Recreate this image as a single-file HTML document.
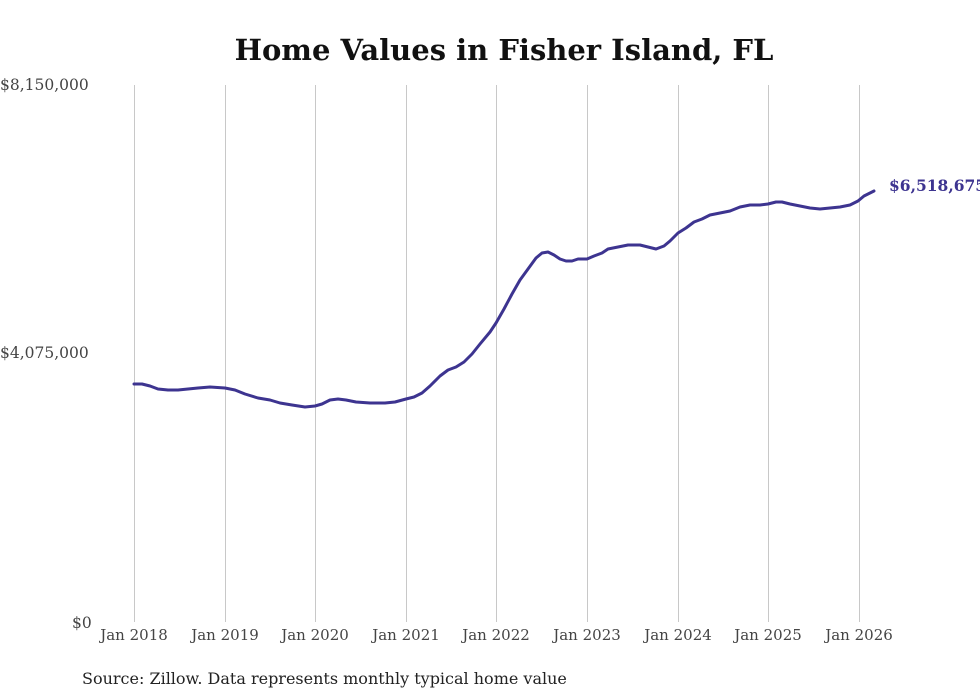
<!DOCTYPE html>
<html><head><meta charset="utf-8"><style>
html,body{margin:0;padding:0;background:#fff;width:980px;height:699px;overflow:hidden}
</style></head><body>
<svg width="980" height="699" xmlns="http://www.w3.org/2000/svg" font-family="'DejaVu Serif', 'Liberation Serif', serif">
<text x="504" y="60" text-anchor="middle" font-size="29" font-weight="bold" fill="#111">Home Values in Fisher Island, FL</text>
<g stroke="#c8c8c8" stroke-width="1">
<line x1="134.5" y1="85" x2="134.5" y2="622"/>
<line x1="225.5" y1="85" x2="225.5" y2="622"/>
<line x1="315.5" y1="85" x2="315.5" y2="622"/>
<line x1="406.5" y1="85" x2="406.5" y2="622"/>
<line x1="496.5" y1="85" x2="496.5" y2="622"/>
<line x1="587.5" y1="85" x2="587.5" y2="622"/>
<line x1="678.5" y1="85" x2="678.5" y2="622"/>
<line x1="768.5" y1="85" x2="768.5" y2="622"/>
<line x1="859.5" y1="85" x2="859.5" y2="622"/>
</g>
<g font-size="15.5" fill="#444">
<text x="0" y="90">$8,150,000</text>
<text x="0" y="358">$4,075,000</text>
<text x="72" y="628">$0</text>
</g>
<g font-size="15" fill="#444" text-anchor="middle">
<text x="134" y="640">Jan 2018</text>
<text x="225" y="640">Jan 2019</text>
<text x="315" y="640">Jan 2020</text>
<text x="406" y="640">Jan 2021</text>
<text x="496" y="640">Jan 2022</text>
<text x="587" y="640">Jan 2023</text>
<text x="678" y="640">Jan 2024</text>
<text x="768" y="640">Jan 2025</text>
<text x="859" y="640">Jan 2026</text>
</g>
<polyline fill="none" stroke="#3d3490" stroke-width="3" stroke-linejoin="round" stroke-linecap="round" points="134,384 142,384 150,386 158,389 168,390 178,390 188,389 198,388 210,387 225,388 235,390 245,394 258,398 270,400 280,403 292,405 305,407 315,406 322,404 330,400 338,399 346,400 356,402 370,403 385,403 395,402 406,399 414,397 422,393 430,386 440,376 448,370 456,367 464,362 472,354 480,344 490,332 496,323 504,309 512,294 520,280 528,269 536,258 542,253 548,252 554,255 560,259 566,261 572,261 578,259 587,259 594,256 602,253 608,249 618,247 628,245 640,245 648,247 656,249 664,246 670,241 678,233 686,228 694,222 702,219 710,215 720,213 730,211 740,207 750,205 760,205 768,204 776,202 782,202 790,204 800,206 810,208 820,209 830,208 840,207 850,205 858,201 864,196 874,191"/>
<text x="889" y="191" font-size="15.5" font-weight="bold" fill="#3d3490">$6,518,675</text>
<text x="82" y="684" font-size="16" fill="#222">Source: Zillow. Data represents monthly typical home value</text>
</svg>
</body></html>
